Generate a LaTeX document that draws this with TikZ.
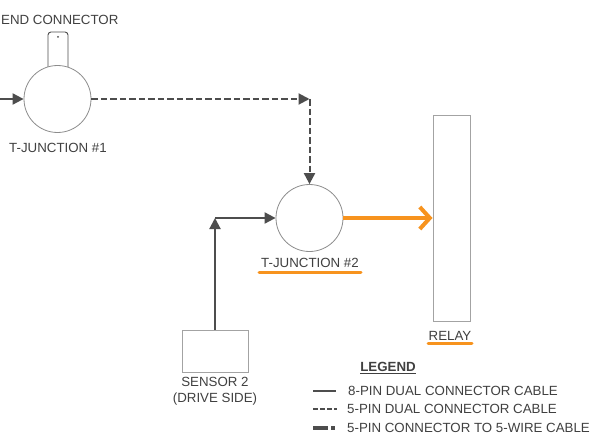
\documentclass[tikz,border=0pt]{standalone}
\usepackage{fontspec}
\setmainfont{Liberation Sans}
\usetikzlibrary{arrows.meta}
\definecolor{lineg}{HTML}{4D4D4D}
\definecolor{shapeg}{HTML}{8C8C8C}
\definecolor{txtg}{HTML}{404040}
\definecolor{orng}{HTML}{F7931E}
\tikzset{
  lbl/.style={font=\fontsize{13.3}{15.5}\selectfont, text=txtg, inner sep=0pt},
  junc/.style={circle, draw=shapeg, line width=0.8pt, minimum size=67pt, inner sep=0pt},
  boxg/.style={rectangle, draw=shapeg!80, line width=1pt, inner sep=0pt},
  solidc/.style={draw=lineg, line width=2pt, -{Triangle[length=11pt,width=11pt]}},
  dashc/.style={draw=lineg, line width=2pt, dash pattern=on 6.5pt off 3pt, -{Triangle[length=11pt,width=11pt]}},
  orangec/.style={draw=orng, line width=4pt, -{Straight Barb[length=10pt,width=22pt,line width=4pt]}},
  uline/.style={draw=orng, line width=3pt, line cap=round},
}
\begin{document}
\begin{tikzpicture}[x=1pt,y=-1pt]
\useasboundingbox[fill=white] (0,0) rectangle (592,444);
% T-junction 1 and end connector
\node[rectangle, rounded corners=3pt, draw=lineg, line width=0.9pt, fill=white, minimum width=20pt, minimum height=38pt, inner sep=0pt] (endc) at (58,51) {};
\node[junc, fill=white] (tj1) at (57.5,99) {};
\fill[lineg] (58,37) circle (1pt);
\node[lbl, anchor=west] (endlbl) at (1,20) {END CONNECTOR};
\node[lbl] (tj1lbl) at (58,148) {T-JUNCTION \#1};
% T-junction 2
\node[junc] (tj2) at (309.5,218) {};
\node[lbl] (tj2lbl) at (310,263) {T-JUNCTION \#2};
\draw[uline] (259,272) -- (361,272);
% Relay
\node[boxg, minimum width=37pt, minimum height=206pt] (relay) at (451.5,218) {};
\node[lbl] (relaylbl) at (450,336) {RELAY};
\draw[uline] (428,343.5) -- (472,343.5);
% Sensor 2
\node[boxg, minimum width=66pt, minimum height=42pt] (sensor) at (215,351) {};
\node[lbl, align=center] (senslbl) at (215,391) {SENSOR 2\\(DRIVE SIDE)};
% connectors
\coordinate (lin) at (0,99);
\draw[solidc] (lin) -- (tj1.west);
\coordinate (c1) at (309.5,99);
\draw[dashc] (tj1.east) -- (c1);
\draw[dashc] (c1) -- (tj2.north);
\coordinate (c2) at (215,218);
\draw[solidc] (sensor.north) -- (c2);
\draw[solidc] (c2) -- (tj2.west);
\draw[orangec] (tj2.east) -- (relay.west);
% Legend
\node[lbl, font=\fontsize{13.3}{15.5}\selectfont\bfseries] (leg) at (388,367) {LEGEND};
\draw[draw=txtg, line width=1pt] (leg.south west) ++(0,2) -- ++(56,0);
\coordinate (l1a) at (313,391); \coordinate (l1b) at (336,391);
\draw[draw=lineg, line width=1.5pt] (l1a) -- (l1b);
\node[lbl, anchor=west] (l1) at (348,391) {8-PIN DUAL CONNECTOR CABLE};
\coordinate (l2a) at (313,409); \coordinate (l2b) at (337,409);
\draw[draw=lineg, line width=1.5pt, dash pattern=on 4.5pt off 2.5pt] (l2a) -- (l2b);
\node[lbl, anchor=west] (l2) at (347,409) {5-PIN DUAL CONNECTOR CABLE};
\coordinate (l3a) at (313,428); \coordinate (l3b) at (335,428);
\draw[draw=lineg, line width=4pt, dash pattern=on 15pt off 3pt on 4pt off 10pt] (l3a) -- (l3b);
\node[lbl, anchor=west] (l3) at (347,428) {5-PIN CONNECTOR TO 5-WIRE CABLE};
\end{tikzpicture}
\end{document}
